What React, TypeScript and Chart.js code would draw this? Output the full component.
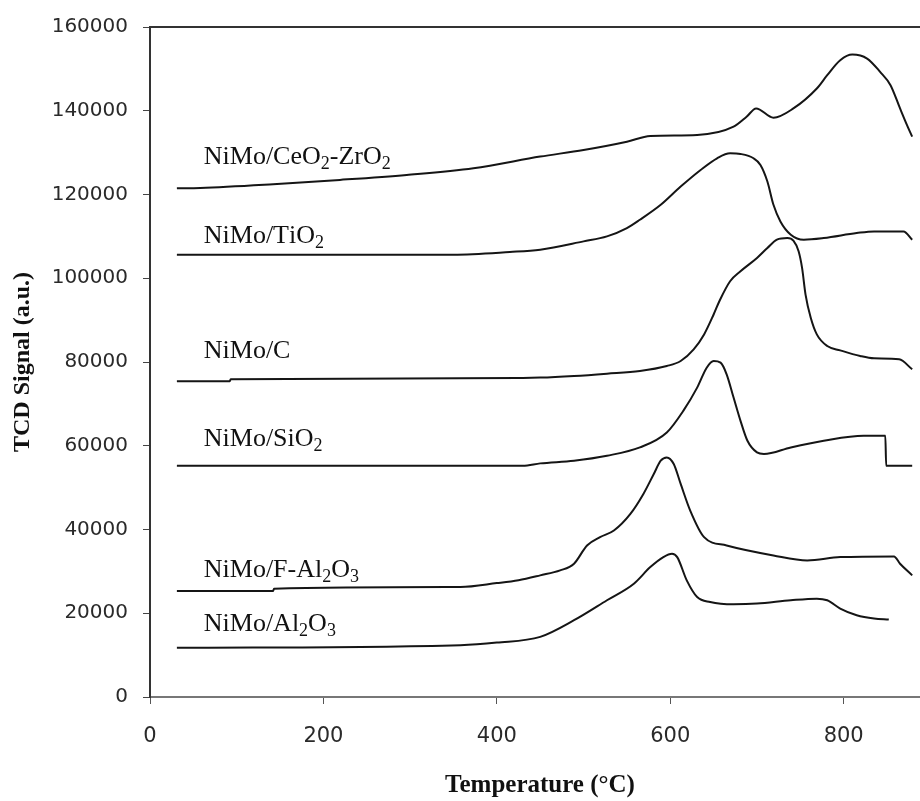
import React, { useEffect, useRef } from "react";
import { Chart, registerables } from "chart.js";

Chart.register(...registerables);

// ---- Data ----
const seriesNames = [
  "NiMo/CeO2-ZrO2",
  "NiMo/TiO2",
  "NiMo/C",
  "NiMo/SiO2",
  "NiMo/F-Al2O3",
  "NiMo/Al2O3",
];

const ceoT = [31, 58, 142, 219, 296, 373, 450, 500, 550, 577, 631, 673, 688, 699, 719, 742, 769, 781, 796, 810, 827, 842, 854, 865, 873, 879];
const ceoV = [121500, 121580, 122460, 123490, 124680, 126270, 129050, 130640, 132620, 133970, 134200, 136190, 138570, 140550, 138330, 140550, 145310, 148490, 152060, 153410, 152460, 149290, 146110, 140550, 136590, 133810];

const tioT = [31, 350, 415, 450, 500, 527, 550, 565, 589, 612, 635, 654, 669, 681, 696, 704, 712, 719, 727, 739, 754, 777, 815, 835, 869, 879];
const tioV = [105640, 105640, 106270, 106820, 108810, 110000, 111980, 113970, 117540, 121900, 125870, 128650, 129840, 129680, 128650, 127060, 123100, 117540, 113570, 110400, 109210, 109600, 110790, 111190, 111190, 109210];

const cT = [31, 92, 93, 430, 450, 489, 527, 565, 596, 612, 627, 639, 650, 657, 669, 681, 700, 712, 723, 735, 742, 748, 752, 756, 762, 769, 781, 796, 819, 835, 864, 879];
const cV = [75400, 75400, 75900, 76200, 76270, 76670, 77220, 77860, 79050, 80240, 83020, 86590, 91350, 94700, 99290, 101670, 104840, 107220, 109210, 109600, 108970, 106430, 102460, 96110, 90550, 86590, 83810, 82780, 81430, 80870, 80630, 78250];

const sioT = [31, 430, 450, 489, 527, 565, 596, 615, 631, 642, 650, 658, 665, 673, 681, 689, 700, 708, 739, 777, 823, 848, 849, 879];
const sioV = [55240, 55240, 55790, 56430, 57620, 59600, 63170, 68330, 73880, 78640, 80240, 79840, 77060, 71510, 65950, 61190, 58410, 58020, 59600, 61190, 62380, 62380, 55240, 55240];

const falT = [31, 142, 143, 358, 400, 425, 450, 473, 489, 504, 519, 535, 554, 569, 581, 589, 596, 604, 612, 623, 639, 665, 719, 758, 796, 858, 865, 879];
const falV = [25310, 25310, 25870, 26270, 27200, 27900, 29050, 30240, 31830, 36190, 38170, 39760, 43730, 48490, 53260, 56430, 57220, 55640, 50880, 44520, 38170, 36190, 33810, 32620, 33410, 33570, 31830, 29050];

const alT = [31, 358, 400, 450, 489, 527, 558, 577, 592, 602, 608, 619, 631, 646, 673, 700, 739, 769, 781, 796, 815, 835, 852];
const alV = [11740, 12380, 13000, 14360, 18330, 23100, 27060, 31020, 33410, 34210, 33410, 27860, 23880, 22690, 22140, 22300, 23100, 23490, 23100, 21120, 19520, 18730, 18500];

// label anchors (data coordinates)
const labelT = [62, 62, 62, 62, 62, 62];
const labelV = [127380, 108330, 80950, 60000, 28570, 15710];

const xTicks = [0, 200, 400, 600, 800];
const yMax = 160000;
const yStep = 20000;
const xMax = 888;

const xTitle = "Temperature (°C)";
const yTitle = "TCD Signal (a.u.)";

const allT = [ceoT, tioT, cT, sioT, falT, alT];
const allV = [ceoV, tioV, cV, sioV, falV, alV];

const textPlugin = {
  id: "textPlugin",
  afterDraw(chart: any) {
    const { ctx, chartArea, scales } = chart;
    const xs = scales.x;
    const ys = scales.y;
    ctx.save();
    // top frame line
    ctx.strokeStyle = "#333";
    ctx.lineWidth = 2;
    ctx.beginPath();
    ctx.moveTo(chartArea.left, chartArea.top);
    ctx.lineTo(chartArea.right, chartArea.top);
    ctx.stroke();

    // curve labels
    ctx.fillStyle = "#111";
    ctx.textAlign = "left";
    ctx.textBaseline = "alphabetic";
    seriesNames.forEach((name, i) => {
      let px = xs.getPixelForValue(labelT[i]);
      const py = ys.getPixelForValue(labelV[i]);
      for (const ch of name) {
        const sub = /\d/.test(ch);
        ctx.font = sub ? '18px "Liberation Serif"' : '26px "Liberation Serif"';
        ctx.fillText(ch, px, py + (sub ? 5 : 0));
        px += ctx.measureText(ch).width;
      }
    });

    // axis titles
    ctx.font = 'bold 25px "Liberation Serif"';
    ctx.textAlign = "center";
    ctx.textBaseline = "middle";
    ctx.fillText(xTitle, (chartArea.left + chartArea.right) / 2 + 5, chartArea.bottom + 89);

    ctx.font = 'bold 24px "Liberation Serif"';
    ctx.translate(23, (chartArea.top + chartArea.bottom) / 2);
    ctx.rotate(-Math.PI / 2);
    ctx.fillText(yTitle, 0, 0);
    ctx.restore();
  },
};

export default function App() {
  const ref = useRef<HTMLCanvasElement>(null);

  useEffect(() => {
    if (!ref.current) return;
    const datasets = seriesNames.map((name, i) => ({
      label: name,
      data: allT[i].map((t, j) => ({ x: t, y: allV[i][j] })),
      borderColor: "#151515",
      borderWidth: 2,
      pointRadius: 0,
      fill: false,
      cubicInterpolationMode: "monotone" as const,
    }));

    const chart = new Chart(ref.current, {
      type: "line",
      data: { datasets },
      plugins: [textPlugin],
      options: {
        animation: false,
        responsive: false,
        devicePixelRatio: 1,
        layout: { padding: { top: 24, left: 0, right: 0, bottom: 0 } },
        plugins: {
          legend: { display: false },
          tooltip: { enabled: false },
        },
        scales: {
          x: {
            type: "linear",
            min: 0,
            max: xMax,
            afterBuildTicks: (scale: any) => {
              scale.ticks = xTicks.map((v) => ({ value: v }));
            },
            afterFit: (scale: any) => {
              scale.height = 104;
            },
            grid: {
              display: true,
              drawOnChartArea: false,
              drawTicks: true,
              tickLength: 7,
              color: "#555",
            },
            border: { display: true, color: "#777", width: 2 },
            ticks: {
              padding: 20,
              color: "#2a2a2a",
              font: { family: '"DejaVu Sans"', size: 21 },
              maxRotation: 0,
              callback: (v: any) => String(v),
            },
          },
          y: {
            type: "linear",
            min: 0,
            max: yMax,
            afterFit: (scale: any) => {
              scale.width = 150;
            },
            grid: {
              display: true,
              drawOnChartArea: false,
              drawTicks: true,
              tickLength: 7,
              color: "#444",
            },
            border: { display: true, color: "#333", width: 2 },
            ticks: {
              stepSize: yStep,
              padding: 15,
              color: "#2a2a2a",
              font: { family: '"DejaVu Sans"', size: 20 },
              callback: (v: any) => String(v),
            },
          },
        },
      },
    });
    return () => chart.destroy();
  }, []);

  return (
    <div style={{ position: "absolute", left: 0, top: 0, width: 920, height: 801, background: "#fff" }}>
      <canvas ref={ref} width={920} height={801} style={{ display: "block" }} />
    </div>
  );
}
